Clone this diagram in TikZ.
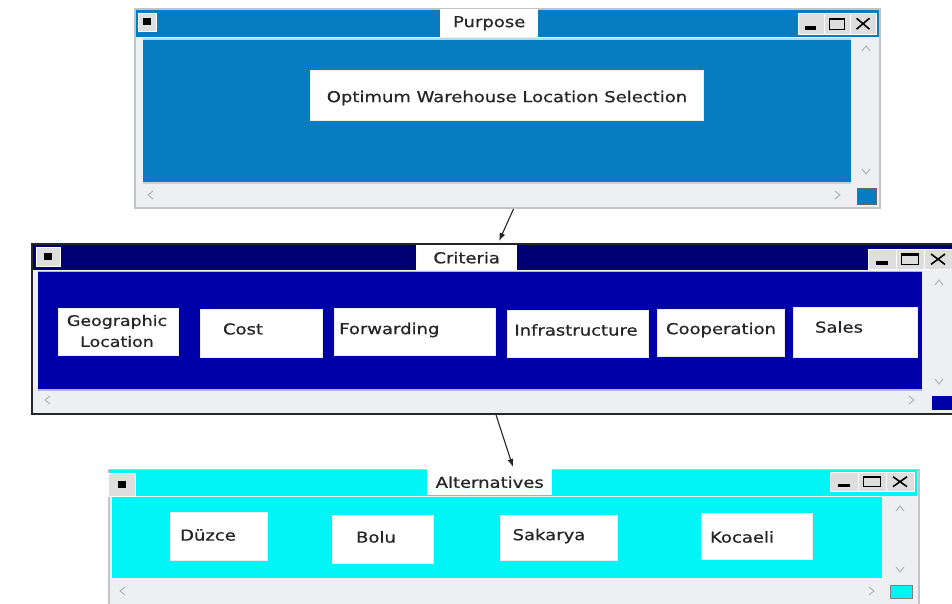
\documentclass[tikz,border=0pt]{standalone}
\usepackage{fontspec}
\setmainfont{DejaVu Sans}[FakeStretch=1.2,FakeBold=0.7]
\usetikzlibrary{arrows.meta,calc}

\definecolor{purposeblue}{RGB}{8,124,192}
\definecolor{critnavy}{RGB}{0,0,116}
\definecolor{critblue}{RGB}{0,0,168}
\definecolor{altcyan}{RGB}{0,246,246}
\definecolor{scrollgray}{RGB}{238,239,243}
\definecolor{framegray}{RGB}{196,196,198}
\definecolor{btngray}{RGB}{222,222,222}
\definecolor{chevgray}{RGB}{175,175,180}
\definecolor{txt}{RGB}{38,38,38}

% three caption buttons: x0, y0, button width, button height
\newcommand{\capbuttons}[4]{%
  \foreach \k in {0,1,2}
    \draw[btnbox] ({#1+\k*#3},#2) rectangle ++(#3,#4);
  \fill ({#1+0.28*#3},{#2+0.62*#4}) rectangle ++({0.42*#3},{0.18*#4});
  \draw[line width=1.3] ({#1+1.2*#3},{#2+0.25*#4}) rectangle ++({0.6*#3},{0.52*#4});
  \draw[line width=2] ({#1+1.2*#3},{#2+0.28*#4}) -- ++({0.6*#3},0);
  \draw[line width=1.6] ({#1+2.25*#3},{#2+0.25*#4}) -- ++({0.5*#3},{0.52*#4})
                        ({#1+2.25*#3},{#2+0.77*#4}) -- ++({0.5*#3},{-0.52*#4});
}
% system menu icon: x0, y0, w, h
\newcommand{\sysicon}[4]{%
  \draw[btnbox] (#1,#2) rectangle ++(#3,#4);
  \fill ({#1+0.5*#3-4},{#2+0.5*#4-3.5}) rectangle ++(8,7);
}
% scroll arrows
\newcommand{\chevup}[2]{\draw[chev] ({#1-4},{#2+3}) -- (#1,{#2-2}) -- ({#1+4},{#2+3});}
\newcommand{\chevdown}[2]{\draw[chev] ({#1-4},{#2-3}) -- (#1,{#2+2}) -- ({#1+4},{#2-3});}
\newcommand{\chevleft}[2]{\draw[chev] ({#1+3},{#2-4}) -- ({#1-2},#2) -- ({#1+3},{#2+4});}
\newcommand{\chevright}[2]{\draw[chev] ({#1-3},{#2-4}) -- ({#1+2},#2) -- ({#1-3},{#2+4});}

\begin{document}
\begin{tikzpicture}[x=1pt,y=-1pt,
  font=\fontsize{15}{17}\selectfont,
  btnbox/.style={fill=btngray,draw=white,line width=0.8},
  chev/.style={draw=chevgray,line width=0.9},
  caption/.style={fill=white,text=txt,inner sep=0pt,anchor=north west},
  itembox/.style={fill=white,draw=white!85!gray,line width=0.6,inner sep=0pt,anchor=north west},
  itemtext/.style={text=txt,inner sep=0pt,align=center},
  winbox/.style={inner sep=0pt,anchor=north west},
  link/.style={draw=black!85,line width=1.1,-{Latex[length=8pt,width=6pt]}}
]
\useasboundingbox (0,0) rectangle (952,604);
\fill[white] (0,0) rectangle (952,604);

% ---------------- Purpose window ----------------
\node[winbox,fill=scrollgray,draw=framegray,line width=2,
      minimum width=745pt,minimum height=199pt] (purpose) at (134,8) {};
\fill[purposeblue] (136,10) rectangle (879,37);
\node[caption,minimum width=98pt,minimum height=28pt] (ptitle) at (440,9) {Purpose};
\sysicon{138}{13}{18}{18}
\capbuttons{798}{13}{26}{21}
\draw[white!70!purposeblue,line width=1.2] (143,39) -- (851,39);
\fill[purposeblue] (143,40) rectangle (851,182);
\draw[white!70!purposeblue,line width=1.2] (143,183) -- (851,183);
\chevup{866}{48}
\chevdown{866}{172}
\chevleft{150}{195}
\chevright{838}{195}
\fill[purposeblue,draw=black!60,line width=0.8] (857,188) rectangle (876,204);
\node[itembox,minimum width=393pt,minimum height=50pt] (goal) at (310,70) {};
\node[itemtext] at (507,98) {Optimum Warehouse Location Selection};

% ---------------- Criteria window ----------------
\node[winbox,fill=scrollgray,draw=black!85,line width=2.2,
      minimum width=940pt,minimum height=170pt] (criteria) at (31,243) {};
\fill[critnavy] (33,245) rectangle (952,270);
\node[caption,minimum width=101pt,minimum height=25pt] (ctitle) at (416,245) {Criteria};
\sysicon{36}{247}{24}{19}
\capbuttons{868}{249}{28}{20}
\draw[white!70!critblue,line width=1.2] (38,271.5) -- (922,271.5);
\fill[critblue] (38,272) rectangle (922,389);
\draw[white!70!critblue,line width=1.2] (38,390) -- (922,390);
\chevup{939}{282}
\chevdown{939}{382}
\chevleft{47}{400}
\chevright{912}{400}
\fill[critblue] (932,396) rectangle (952,410);

\node[itembox,minimum width=120pt,minimum height=47pt] (geo) at (58,308) {};
\node[itemtext,font=\fontsize{14.5}{21}\selectfont] at (117,331) {Geographic\\Location};
\node[itembox,minimum width=122pt,minimum height=48pt] (cost) at (200,309) {};
\node[itemtext] at (243,329) {Cost};
\node[itembox,minimum width=161pt,minimum height=47pt] (fwd) at (334,308) {};
\node[itemtext,anchor=west] at (339,330) {Forwarding};
\node[itembox,minimum width=141pt,minimum height=47pt] (infra) at (507,310) {};
\node[itemtext] at (576,330) {Infrastructure};
\node[itembox,minimum width=127pt,minimum height=47pt] (coop) at (657,309) {};
\node[itemtext] at (721,330) {Cooperation};
\node[itembox,minimum width=124pt,minimum height=50pt] (sales) at (793,307) {};
\node[itemtext] at (839,327) {Sales};

% ---------------- Alternatives window ----------------
\node[winbox,fill=scrollgray,draw=framegray,line width=2,
      minimum width=810pt,minimum height=140pt] (alts) at (108,469) {};
\fill[altcyan] (109,470) rectangle (917,496);
\node[caption,minimum width=125pt,minimum height=26pt] (atitle) at (427,469) {Alternatives};
\sysicon{108}{473}{27}{23}
\capbuttons{830}{472}{28}{19}
\fill[altcyan] (112,497) rectangle (882,578);
\chevup{900}{508}
\chevdown{900}{570}
\chevleft{122}{591}
\chevright{872}{591}
\fill[altcyan,draw=black!50,line width=0.8] (890,585) rectangle (912,598);

\node[itembox,minimum width=97pt,minimum height=48pt] (duzce) at (170,512) {};
\node[itemtext] at (208,535) {Düzce};
\node[itembox,minimum width=101pt,minimum height=48pt] (bolu) at (332,515) {};
\node[itemtext] at (376,537) {Bolu};
\node[itembox,minimum width=117pt,minimum height=45pt] (sakarya) at (500,515) {};
\node[itemtext] at (549,536) {Sakarya};
\node[itembox,minimum width=111pt,minimum height=46pt] (kocaeli) at (701,513) {};
\node[itemtext] at (742,537) {Kocaeli};

% ---------------- connectors ----------------
\draw[link] ($(purpose.south)+(6,0)$) -- ($(criteria.north)+(-3,-2)$);
\draw[link] ($(criteria.south)+(-6,0)$) -- ($(alts.north)+(-1,-2)$);
\end{tikzpicture}
\end{document}
